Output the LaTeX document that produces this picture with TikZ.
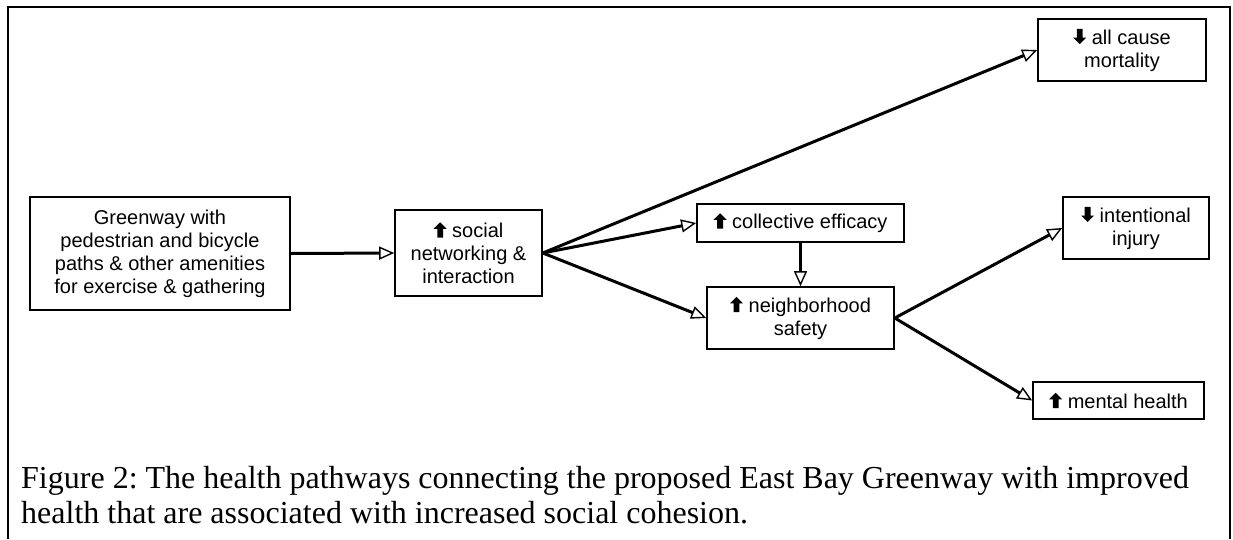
\documentclass[tikz,border=0pt]{standalone}
\usepackage{fontspec}
\setmainfont{Liberation Sans}
\newfontfamily\capfont{Liberation Serif}
\usetikzlibrary{arrows.meta}
\newcommand{\up}{\tikz[x=1.45pt, y=1.45pt, baseline=0pt]
  \fill (-2,0) -- (-2,6) -- (-4.5,6) -- (0,10.5) -- (4.5,6) -- (2,6) -- (2,0) -- cycle;}
\newcommand{\down}{\tikz[x=1.45pt, y=1.45pt, baseline=0pt]
  \fill (-2,10.5) -- (-2,4.5) -- (-4.5,4.5) -- (0,0) -- (4.5,4.5) -- (2,4.5) -- (2,10.5) -- cycle;}
\begin{document}
\frenchspacing
\begin{tikzpicture}[x=1pt, y=-1pt,
    box/.style={draw, line width=1.6pt, inner sep=0pt, align=center,
      font=\fontsize{20}{23}\selectfont},
    link/.style={line width=3pt, -{Triangle[open, length=15pt, width=13pt, line width=1.4pt]}}]
    \useasboundingbox (0,0) rectangle (1233,539);
    \draw[line width=1.8pt] (8,539) -- (8,7) -- (1230,7) -- (1230,539);

    \node[box, minimum width=260pt, minimum height=113pt] (green) at (160,253.5)
      {Greenway with\\pedestrian and bicycle\\paths \& other amenities\\for exercise \& gathering};
    \node[box, minimum width=147pt, minimum height=86pt] (social) at (468.5,253)
      {\up\ social\\networking \&\\interaction};
    \node[box, minimum width=207pt, minimum height=38pt] (coll) at (800.5,223)
      {\up\ collective efficacy};
    \node[box, minimum width=187pt, minimum height=62pt] (safe) at (800.5,318)
      {\up\ neighborhood\\safety};
    \node[box, minimum width=168pt, minimum height=62pt] (mort) at (1122,50)
      {\down\ all cause\\mortality};
    \node[box, minimum width=146pt, minimum height=62pt] (injury) at (1136,228)
      {\down\ intentional\\injury};
    \node[box, minimum width=171pt, minimum height=37pt] (mental) at (1118.5,400.5)
      {\up\ mental health};

    \draw[link] (green.east) -- (social.west);
    \draw[link] (social.east) -- (mort.west);
    \draw[link] (social.east) -- (coll.west);
    \draw[link] (social.east) -- (safe.west);
    \draw[link] (coll.south) -- (safe.north);
    \draw[link] (safe.east) -- (injury.west);
    \draw[link] (safe.east) -- (mental.west);

    \node[anchor=base west, align=left, inner sep=0pt,
      font=\capfont\fontsize{32}{35}\selectfont] (cap) at (21,523)
      {Figure 2: The health pathways connecting the proposed East Bay Greenway with improved\\
       health that are associated with increased social cohesion.};
  \end{tikzpicture}
\end{document}
